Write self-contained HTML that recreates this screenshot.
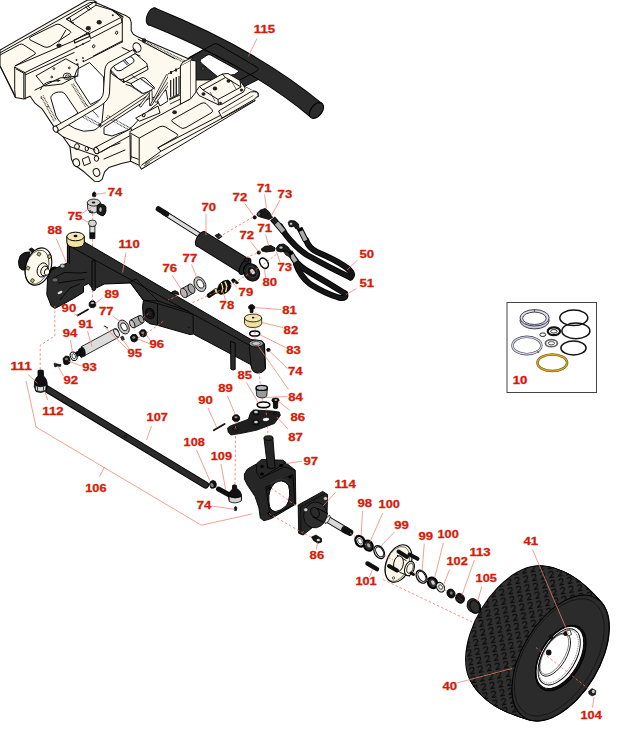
<!DOCTYPE html>
<html><head><meta charset="utf-8"><style>
html,body{margin:0;padding:0;background:#fff;overflow:hidden;}
svg{display:block;}
.l{font-family:"Liberation Sans",sans-serif;font-weight:bold;font-size:11px;fill:#d41c08;stroke:#d41c08;stroke-width:0.3;}
.ld{stroke:#ec7a68;stroke-width:0.8;fill:none;}
.ds{stroke:#ec6a58;stroke-width:0.8;fill:none;stroke-dasharray:3 2.5;}
.k{stroke:#000;stroke-width:1;stroke-linejoin:round;}
.cr{fill:#fef9ee;stroke:#111;stroke-width:0.9;stroke-linejoin:round;}
.dk{fill:#262626;stroke:#000;stroke-width:1;stroke-linejoin:round;}
.ln{fill:none;stroke:#111;stroke-width:0.8;stroke-linejoin:round;stroke-linecap:round;}
</style></head><body>
<svg width="643" height="756" viewBox="0 0 643 756">
<rect width="643" height="756" fill="#fff"/>

<!-- ===== FRAME ===== -->
<!--S:frame-->
<g id="frame">
<path d="M0,50 L87.5,0 L93.4,0 L96.2,2.8 L113,10 L122,14 L125.6,15.4 L129.8,18.2 L131.2,22.4 L131.2,30.8 L133.3,34.3 L138.2,37.1 L190.2,59.4 L232,80 L252,90.5 Q259.5,91.5 258.5,96 L254,100 L175,147 L141.5,169 L138.9,166.2 L131.2,161.3 L121.4,163.4 L108.8,167.6 L104.6,171.8 L102.1,179.4 L99,181.6 L94.7,181.3 L84,171.8 L74.2,164.8 L71.4,159.2 L70,146.6 L63,136.8 L56,131.2 L53.2,125.6 L42,108.8 L35,103.2 L30.1,96.2 L23.8,99 L15.4,97.6 L0,66 Z" fill="#fef9ee" stroke="#111" stroke-width="1.05" stroke-linejoin="round"/>
<!-- see-through white windows -->
<g fill="#fff" stroke="#111" stroke-width="1" stroke-linejoin="round">
<path d="M52,95.2 Q55,91.5 61.8,92 Q64,92.5 65.5,94.5 L78,113 L62,124 Q58,120 56,116 L50.9,98.5 Q50.5,96.5 52,95.2 Z"/>
<path d="M77.5,69 L89.5,62.5 L103.5,77 L104.6,95 Q104,97.5 101,99 L90.5,104.5 L75,80.5 Q74,76 76,72 Z"/>
<path d="M62,125 L104,101 L102,122 Q98,130 92,130.5 L83.5,131.2 Q74,129 68,124.5 Z"/>
<path d="M104,127.5 L148,99 L155,97 L158,103 L141,117 L133,126 L128,130 L112,136 L104,134 Z"/>
<path d="M156,97 L166,90 L168,101 L160,106 Z"/>
</g>
<!-- hatched interior members -->
<g fill="none" stroke="#333" stroke-width="1.1" stroke-dasharray="0.9 0.7">
<path d="M71.6,84.4 L85.7,107.2 M73.3,83.6 L87.2,106"/>
<path d="M80.3,115.9 L98.8,125.7 M81,113.8 L99.5,123.5"/>
<path d="M41,96.3 L54.2,121.4 M43,95.5 L56,120"/>
<path d="M106,117.2 L131.2,131.2 M107.5,115.5 L132,129"/>
<path d="M85,103.2 L99,117.2"/>
<path d="M142.6,40 L185,61 M143,42.2 L185,63"/>
<path d="M130.5,74.5 L150,88 M112,74 L125,82"/>
</g>
<g fill="none" stroke="#111" stroke-width="1" stroke-linejoin="round" stroke-linecap="round">
<!-- left rail top flange -->
<path d="M0,52.8 L90,2.5 L96.2,2.3"/>
<path d="M0,55 L19.6,44.5 Q21.5,43.8 23.1,44.5 L34.3,51.8 Q36.2,53.2 35,54.2 L15.4,65.8"/>
<path d="M30.1,39.9 Q28.5,38.5 30.5,37 L56,24.5 Q58,23.8 60,24.6 L70.2,31.2 Q71.5,32.5 70,33.5 L50,46.5 Q47,48 44.5,47 Z"/>
<path d="M65.8,30.2 L58.8,42"/>
<path d="M15.4,65.8 L74.2,40.6 L90,31.5 M24.5,72.8 L90,40.6 M25.2,74.9 L74.2,52.5"/>
<path d="M74.2,40 L89,33.5 L89.4,36.5 L74.6,43 Z" stroke-dasharray="0.8 0.5" stroke-width="1.1"/>
<!-- left box -->
<path d="M14.7,67.2 L25.2,72.8 L25.2,99 M16.2,69 L23.8,73.2 L23.8,98 M14.7,67.2 L14.7,89.6 L15.4,97.6 M0,65.8 L14.7,95"/>
<!-- mount block top -->
<path d="M70.9,21.8 L96,5.2 L112,10 L121,17.4 L89.4,33.7 Z M89.4,33.7 L90.5,38.6 L122,22.3 L121,17.4 M122.3,18.2 L122.3,42"/>
<path d="M66.5,19 L95.9,1.1 L96,5.2 M66.5,19 L70.9,21.8 M86,7 L89,10.5 M88,6 L91,9.2"/>
<path d="M67,19.5 L71,21.8 L70,18 Z" fill="#fff"/>
<path d="M112,9.8 L123,17" stroke-dasharray="1 0.6" stroke-width="1.4"/>
<!-- rear mount plate (left) -->
<path d="M36.4,75.6 L65.8,58.8 L78.4,65.8 L77.7,75.6 L62,84 L45,86 Z"/>
<path d="M35,90 L60,78 L78,76"/>
<path d="M40.6,89.6 Q43,83 50,81.5 L60,80.5"/>
<!-- right region lines -->
<path d="M85,60.9 L122.1,42 M93.4,56 L122,41 M138.2,39.2 L175,58.8 M122,47.5 L140,56"/>
<!-- cross member boxes -->
<path d="M110.6,68.3 L131.5,54.5 Q133.5,53.2 135.8,54 L146.5,63 Q148,65 146.5,66.5 L123.2,79.1 Q121,80 119,79 L111,70.5 Z" fill="#fef9ee"/>
<path d="M111,70.5 L111.5,73.5 L123.7,82.5 L148,69.5 L147.5,66 M123.2,79.1 L123.7,82.5"/>
<path d="M113.4,65.5 L127.5,57 Q130,56 132,57.3 L134,60 Q134.5,62 132.5,63 L121,70.5 Q118,71.5 116,70 Z" fill="#fff"/>
<path d="M121.8,59 L127.4,65 M123.2,58.2 L128.8,64.2" stroke-width="1"/>
<path d="M131.1,83.5 L141,78 Q143.5,77 145.5,78.5 L154.5,87.5 L150,91 L143,93.5 L135,88 Z" fill="#fff"/>
<path d="M131.1,86 L142.3,93.5 M140.5,78.6 L154.5,88.9" stroke="#333" stroke-width="1.1" stroke-dasharray="0.9 0.6"/>
<path d="M124,81 L131.1,83.5 M126,84.5 L131,86"/>
<!-- upper pipe (bent) -->
<path d="M55.3,126.3 L93,105 Q103.4,99 103.4,92 L104.8,70 Q105.5,63 111.8,61 L132.8,49.8 L135.6,53.3 L113.9,65.9 Q110.4,68 110.4,71 L109.5,93 Q109,100.5 100,106 L56.7,131.9 Z" fill="#fef9ee"/>
<ellipse cx="55.6" cy="129.1" rx="2.3" ry="3.2" transform="rotate(-25 55.6 129.1)" fill="#fef9ee"/>
<ellipse cx="137" cy="47.4" rx="3.8" ry="4.8" transform="rotate(-25 137 47.4)" fill="#fef9ee"/>
<path d="M134.5,49 L136.5,52.5" />
<!-- lower pipe -->
<path d="M95.5,147.3 L131,128.5 L133,134 L97.6,153.6 Z" fill="#fef9ee"/>
<ellipse cx="96.3" cy="150.6" rx="2.3" ry="3.3" transform="rotate(-25 96.3 150.6)" fill="#fef9ee"/>
<!-- thin rod + zigzag -->
<path d="M99,124.6 L150.8,90.2 L151.5,93 L100.5,127 Z" fill="#fef9ee" stroke-width="0.9"/>
<path d="M136,118 L158,106 L160,113 L140,121 Z" fill="#fef9ee"/>
<ellipse cx="143.8" cy="115.1" rx="1.3" ry="1.7" transform="rotate(20 143.8 115.1)"/>
<path d="M139.3,105.7 L148.5,93.5 L150.3,94.5 L141.2,106.8 Z" fill="#fef9ee" stroke-width="0.8"/>
<path d="M149.6,91 L152,90.5 L152.4,104.5 L150,105.5 Z" fill="#fef9ee" stroke-width="0.8"/>
<path d="M150,105.5 L166.5,74.5 L168.6,75.5 L152.4,104.5 Z" fill="#fef9ee" stroke-width="0.8"/>
<path d="M154.5,101 L168.2,82 L170,83.2 L156.5,102.2 Z" fill="#fef9ee" stroke-width="0.8"/>
<!-- holes rear plate -->
<ellipse cx="77" cy="146.6" rx="2.4" ry="3" fill="#fef9ee"/>
<ellipse cx="86.8" cy="148.7" rx="1.7" ry="2.2" fill="#fef9ee"/>
<ellipse cx="76.3" cy="162.7" rx="3.2" ry="3.9" transform="rotate(-20 76.3 162.7)" fill="#fef9ee"/>
<ellipse cx="96.5" cy="172.5" rx="3.2" ry="3.9" transform="rotate(-20 96.5 172.5)" fill="#fef9ee"/>
<ellipse cx="96.5" cy="158.5" rx="2.2" ry="2.8" fill="#fef9ee"/>
<path d="M82.6,159 L88.5,156.4 L90.5,163 L84.5,165.5 Z"/>
<path d="M63,136.8 L95,150 M70,146.6 L97,156 M101,152 Q110,146 120,143 M104,159 L125,150"/>
</g>
<g fill="#222">
<ellipse cx="59" cy="45.6" rx="2.6" ry="2.2"/>
<ellipse cx="88.3" cy="28.3" rx="2.6" ry="2.2"/>
<ellipse cx="99.2" cy="22.3" rx="2.6" ry="2.2"/>
<circle cx="83.5" cy="61.1" r="1.1"/><circle cx="77.5" cy="64.3" r="1.1"/><circle cx="112.8" cy="15.2" r="1"/><circle cx="73" cy="22.9" r="1"/>
<circle cx="76.5" cy="47" r="0.9"/><circle cx="83" cy="44" r="0.9"/><circle cx="76.5" cy="60" r="0.9"/><circle cx="83" cy="58" r="0.9"/>
<circle cx="41.3" cy="98" r="0.8"/><circle cx="48" cy="106.5" r="0.8"/>
<circle cx="144" cy="40.5" r="2.2"/>
<circle cx="100" cy="124.8" r="1.5"/>
</g>
<g fill="none" stroke="#111" stroke-width="0.9">
<ellipse cx="116.6" cy="32.7" rx="1.1" ry="1.6" transform="rotate(20 116.6 32.7)"/>
<ellipse cx="93.7" cy="46.3" rx="1.1" ry="1.6" transform="rotate(20 93.7 46.3)"/>
<ellipse cx="67.2" cy="76.3" rx="4" ry="3.2"/>
<ellipse cx="67.5" cy="76.5" rx="2" ry="1.6"/>
<circle cx="53.9" cy="68.6" r="0.9"/><circle cx="69.3" cy="67.9" r="0.9"/><circle cx="51.8" cy="77" r="0.9"/><circle cx="58.1" cy="80.5" r="0.9"/>
</g>
<!-- dark mechanism left of vertical plate -->
<path d="M168,74 L180.4,67.5 L180.4,104.2 L172,108 L168,102 Z" fill="#fef9ee" stroke="none"/>
<g fill="#2a2a2a" stroke="none"><rect x="170" y="80" width="1.3" height="17"/><rect x="173" y="78.5" width="1.2" height="17.5"/><rect x="175.6" y="77" width="1.4" height="18"/><rect x="178.4" y="76" width="1.2" height="18"/>
<rect x="170" y="71" width="2" height="3"/><rect x="175" y="68.5" width="2" height="3"/><rect x="168.5" y="96" width="11" height="1.4" transform="rotate(-25 174 96.7)"/></g>
<path d="M168,74 L180.4,67.5 M169,100 L180,95 M170,104 L180.4,99" stroke="#111" stroke-width="0.9" fill="none"/>
<!-- right rail -->
<g stroke="#111" stroke-width="1" stroke-linejoin="round" fill="none">
<path d="M129.4,131.8 L190,99 L196,96 L243,86 L253.5,91 L258.8,94.5 L257.8,97 L255.6,100.2 L141.5,169 L130.4,161 Z" fill="#fef9ee" stroke="none"/>
<path d="M129.4,131.8 L190,99"/>
<path d="M129.9,132.7 L139.2,138.1 L139.2,165.3 L130.4,161 Z"/>
<path d="M131,134.5 L131,159.5 M131,156.6 L138.6,159.3"/>
<path d="M139.2,138.1 L159.8,126.7 Q163,125.5 165.5,127 L177,134 Q178.8,135.6 176.5,137 L157.7,147.9 L161,151.2 L141.3,165.3"/>
<path d="M157.7,147.9 L257.8,95.9 M161,151.2 L255.6,100.2 M139.2,165.3 L141.5,169 L255.2,100.6"/>
<path d="M172.5,119.5 L201,103.5 Q204,102 206,103.5 L212,109.5 Q213.5,111.5 211,113 L186,127.5 Q182.5,129.5 180.5,127.5 L172.5,122 Q171,120.5 172.5,119.5 Z"/>
<path d="M145,163.5 L160,155 M144,166 L150,162" stroke-dasharray="0.8 0.6" stroke-width="1.1"/>
</g>
<ellipse cx="174.6" cy="112.2" rx="2.3" ry="2" fill="#222"/>
</g>

<!--E:frame-->
<!--S:bumper-->
<g id="bumper">
<path d="M189,57.5 L215,43 L262,70 L259.2,79.1 L243.3,87 L225,80 L189,80 Z" fill="#2b2b2b" stroke="#000" stroke-width="0.9"/>
<path d="M152,16.5 Q252.5,57 316.5,110.5" fill="none" stroke="#000" stroke-width="18.6"/>
<path d="M152,16.5 Q252.5,57 316.5,110.5" fill="none" stroke="#2b2b2b" stroke-width="16.8"/>
<ellipse cx="152" cy="16.5" rx="5" ry="9.2" transform="rotate(22 152 16.5)" fill="#2b2b2b" stroke="#000" stroke-width="1"/>
<path d="M152.5,16.7 Q160,19.7 165,22" stroke="#2b2b2b" stroke-width="16.7" fill="none"/>
<ellipse cx="316.5" cy="110.5" rx="5.6" ry="9" transform="rotate(38 316.5 110.5)" fill="#2b2b2b" stroke="#000" stroke-width="1.1"/>
<!-- rim -->
<path d="M188,58.5 L213.5,44.3 Q215.8,43 218,44.3 L257,67.2 Q260,69.3 257,71 L238.7,80.5" fill="none" stroke="#000" stroke-width="0.9"/>
<path d="M200.5,59.6 Q199.5,61.5 201.5,63.2 L218,77 L234.5,74.5 L238.2,72 Q239.5,71 238,70.2 L210.5,55 Q208.8,54.2 207,55.2 Z" fill="#fff" stroke="#000" stroke-width="0.9"/>
<circle cx="203" cy="68.5" r="1.6" fill="#555" stroke="#000" stroke-width="0.6"/>
</g>

<!--E:bumper-->
<!--S:framefront-->
<g id="framefront" stroke="#111" stroke-width="1" stroke-linejoin="round">
<!-- vertical plate -->
<path d="M180.4,65.7 L190.9,60.1 L190.9,98.6 L180.4,104.2 Z" fill="#fef9ee"/>
<path d="M180.4,65.7 L183,62 L193,57 L190.9,60.1" fill="#fef9ee"/>
<path d="M190.9,60.1 L196,61 L196,92 L190.9,98.6" fill="#fef9ee"/>
<!-- mount block -->
<path d="M196.2,91.1 L199.5,86.5 L222.3,74 L228,73.5 L240,80.5 L245.2,88.2 L243.5,92 L236,96 L221.5,104.5 L218.5,104.8 L199,95.5 Z" fill="#fef9ee"/>
<path d="M199.5,86.5 L203,90 L225.5,77.5 L222.3,74 M203,90 L218,99.5 L241,87 L240,80.5 M218,99.5 L218.5,104.8 M225.5,77.5 L241,87" fill="none"/>
<path d="M210,92 L215,101 M231,80 L236,89" fill="none" stroke-width="0.6"/>
<!-- right rail end -->
<path d="M218.6,111 L250.5,92 Q258.5,90.5 258.3,95.5 L254,99.5 L222,118 Z" fill="#fef9ee"/>
<path d="M222,113.5 L253.4,95.5" fill="none" stroke-width="0.6"/>
</g>
<g fill="#1c1c1c">
<ellipse cx="215" cy="88.5" rx="2.2" ry="1.9"/>
<ellipse cx="228.5" cy="81" rx="2" ry="1.8"/>
<ellipse cx="203.5" cy="94" rx="2" ry="1.8"/>
<ellipse cx="241.5" cy="90" rx="1.6" ry="1.5"/>
<ellipse cx="220.5" cy="103" rx="1.4" ry="1.3"/>
</g>

<!--E:framefront-->
<!--S:parts--><!--E:parts-->
<!--S:axle-->
<g id="axle">
<!-- left hub (behind bracket) -->
<path d="M20,256 Q17,262 19.5,268 Q22,271 27,270 L30,252 Q24,251 20,256 Z" fill="#1a1a1a" stroke="#000" stroke-width="0.8"/>
<path d="M29,249.5 L31.5,248 L34.5,250 L32.5,253 Z" fill="#1a1a1a" stroke="#000" stroke-width="0.8"/>
<ellipse cx="38.4" cy="266.6" rx="12.6" ry="19.2" transform="rotate(18 38.4 266.6)" fill="#fbf8ec" stroke="#000" stroke-width="1.1"/>
<ellipse cx="37" cy="267.2" rx="11.2" ry="17.6" transform="rotate(18 37 267.2)" fill="none" stroke="#000" stroke-width="0.6"/>
<ellipse cx="42.5" cy="270" rx="5.2" ry="7.2" transform="rotate(18 42.5 270)" fill="#fbf8ec" stroke="#000" stroke-width="0.9"/>
<ellipse cx="44.5" cy="271" rx="3.6" ry="5" transform="rotate(18 44.5 271)" fill="#fbf8ec" stroke="#000" stroke-width="0.9"/>
<ellipse cx="47" cy="272" rx="2.6" ry="3.4" transform="rotate(18 47 272)" fill="#fbf8ec" stroke="#000" stroke-width="0.9"/>
<g fill="#c8b860" stroke="#000" stroke-width="0.6">
<rect x="37.5" y="252.5" width="3" height="3.2" transform="rotate(30 39 254)"/>
<rect x="48" y="255" width="3" height="3.2" transform="rotate(30 49.5 256.5)"/>
<rect x="26.5" y="266.5" width="3" height="3.2" transform="rotate(30 28 268)"/>
<rect x="31" y="279" width="3" height="3.2" transform="rotate(30 32.5 280.5)"/>
</g>
<path d="M50,270 Q52,266 56,267 L60,272 L59,280 L54,282 Q50,279 50,274 Z" fill="#111" stroke="#000" stroke-width="0.8"/>
<!-- beam -->
<path d="M67.4,241 L83.5,241.5 L251,339.5 L262,341 L264.5,344 L265.5,369 Q262,374 257,373 Q252,372 251.5,367 L250.8,364.6 L193.3,334 L190.2,334.6 L157.5,325.3 L149.8,323.8 L143.5,319.1 L142.5,306.7 L143.5,300.4 L130.6,283 L104.3,284 L95.3,288.5 L93,289 L88.5,283.5 L83.5,286 L83.5,292.2 L73.6,298.4 L62.4,304.6 L54.9,308.4 L51.2,305.9 L46.8,294.7 L47.5,278.5 L51.2,270.4 L63,264.8 L67.4,263 Z" fill="#2b2b2b" stroke="#000" stroke-width="1" stroke-linejoin="round"/>
<g fill="none" stroke="#000" stroke-width="0.8" stroke-linejoin="round">
<path d="M67.4,241 L69.5,246 L250,345.5"/>
<path d="M69.5,246 L69.5,264"/>

<path d="M129.5,281.8 L136,279 L158,301 L143.5,300.4 Z"/>
<path d="M143.5,300.4 L157.5,303.5 L157.5,325.3 M157.5,303.5 L188.6,312.9 L193,314.5 L193.3,333.1"/>
<path d="M188,327 L189.5,327.5 M158,301 L188,311"/>
<path d="M52,279 L64,272.5 L80,273 L87.3,272.3 M58,283 L85,279 M60,300 L70,288 L80,284"/>

<path d="M249.2,344.5 L251,366 M264,344 L265.5,369"/>
</g>
<path d="M230.5,341.3 L235.2,343 L235.2,369.3 Q233,371 230.8,369 Z" fill="#2b2b2b" stroke="#000" stroke-width="0.9"/>
<path d="M92,261 L95,260.5 L95.3,290 Q93.5,291.5 92,290 Z" fill="#2b2b2b" stroke="#000" stroke-width="0.9"/>
<ellipse cx="150" cy="313.5" rx="4.2" ry="5.4" transform="rotate(-20 150 313.5)" fill="#1e1e1e" stroke="#000" stroke-width="1"/>
<ellipse cx="150.3" cy="313.3" rx="2.6" ry="3.6" transform="rotate(-20 150.3 313.3)" fill="none" stroke="#000" stroke-width="0.7"/>
<ellipse cx="256.2" cy="343.5" rx="7.2" ry="3.4" fill="#999" stroke="#000" stroke-width="0.9"/>
<ellipse cx="256.2" cy="343.5" rx="4.2" ry="2" fill="#c8c8c8" stroke="#000" stroke-width="0.5"/>
<path d="M171,293.5 Q172,290.5 175.5,290.8 Q178.5,291.5 179,294.5 Z" fill="#222" stroke="#000" stroke-width="0.8"/>
<!-- bushing 88 (yellow) -->
<path d="M66.8,236.5 L66.8,242.5 Q68,247.5 75.5,247.5 Q83.5,247.5 84.3,242.5 L84.3,236.5 Z" fill="#f1e4a2" stroke="#000" stroke-width="1"/>
<ellipse cx="75.5" cy="236.5" rx="8.7" ry="4.3" fill="#f3e9b8" stroke="#000" stroke-width="1"/>
<ellipse cx="75.5" cy="236" rx="2" ry="1.3" fill="#111"/>
<!-- left bracket details -->
<ellipse cx="55" cy="280" rx="3" ry="2.2" fill="#666" stroke="#000" stroke-width="0.6"/>
<ellipse cx="62.5" cy="266" rx="2.5" ry="2" fill="#bbb" stroke="#000" stroke-width="0.6"/>
<ellipse cx="60" cy="292.5" rx="2.6" ry="1.2" transform="rotate(-25 60 292.5)" fill="#ddd"/>
</g>

<!--E:axle-->
<!--S:cyl-->
<g id="cyl">
<!-- rod -->
<path d="M163,212 L201,236" stroke="#000" stroke-width="5.2" stroke-linecap="butt"/>
<path d="M163,212 L201,236" stroke="#dcdcdc" stroke-width="3.4"/>
<path d="M166,213.9 L173,218.3" stroke="#fff" stroke-width="0.8"/>
<path d="M158.5,209 L166.5,214" stroke="#111" stroke-width="5.6" stroke-linecap="round"/>
<!-- body -->
<path d="M201,239 L244,265.6" stroke="#000" stroke-width="17.2" stroke-linecap="butt"/>
<path d="M201,239 L244,265.6" stroke="#2b2b2b" stroke-width="15.4" stroke-linecap="butt"/>
<ellipse cx="201" cy="239" rx="4.2" ry="8.3" transform="rotate(32 201 239)" fill="#2b2b2b" stroke="#000" stroke-width="1"/>
<path d="M201,239 L206,242.1" stroke="#2b2b2b" stroke-width="15.2"/>
<path d="M215,235.5 L219,233.5 L222,236.5 L218.5,239 Z" fill="#1e1e1e" stroke="#000" stroke-width="0.8"/>
<!-- gland -->
<ellipse cx="245" cy="266.2" rx="4" ry="9.3" transform="rotate(32 245 266.2)" fill="#222" stroke="#000" stroke-width="1"/>
<ellipse cx="246.5" cy="260" rx="2.3" ry="2" fill="#222" stroke="#000" stroke-width="0.8"/>
<!-- eye -->
<ellipse cx="251.5" cy="272.3" rx="7.6" ry="9.2" transform="rotate(-35 251.5 272.3)" fill="#1e1e1e" stroke="#000" stroke-width="1"/>
<ellipse cx="252" cy="272" rx="4.6" ry="6" transform="rotate(-35 252 272)" fill="#111" stroke="#444" stroke-width="0.8"/>
<ellipse cx="252.5" cy="271.6" rx="2.2" ry="3.3" transform="rotate(-35 252.5 271.6)" fill="#ddd" stroke="#000" stroke-width="0.5"/>
</g>

<!--E:cyl-->
<!--S:hoses-->
<g id="hoses" fill="none" stroke-linecap="round" stroke-linejoin="round">
<!-- hose 51 -->
<path d="M294,259 Q300,267 310,272.5 Q329,283.5 345,293.5" stroke="#000" stroke-width="6"/>
<path d="M296,264 Q300,276 310,284 Q324,293 338.5,297.5 Q347,299.5 345,293.5" stroke="#000" stroke-width="6"/>
<path d="M294,259 Q300,267 310,272.5 Q329,283.5 345,293.5" stroke="#161616" stroke-width="4.2"/>
<path d="M296,264 Q300,276 310,284 Q324,293 338.5,297.5 Q347,299.5 345,293.5" stroke="#161616" stroke-width="4.2"/>
<!-- hose 50 -->
<path d="M280,226 L285,233.7 Q295,247 307,255 Q330,268 350.5,277.5" stroke="#000" stroke-width="6"/>
<path d="M306,240 Q309,248.5 317,252 Q336,260 346.5,267.5 Q355,274 350.5,277.5" stroke="#000" stroke-width="6"/>
<path d="M280,226 L285,233.7 Q295,247 307,255 Q330,268 350.5,277.5" stroke="#161616" stroke-width="4.2"/>
<path d="M306,240 Q309,248.5 317,252 Q336,260 346.5,267.5 Q355,274 350.5,277.5" stroke="#161616" stroke-width="4.2"/>
<!-- ferrules --><g stroke-linecap="butt">
<path d="M272.5,218.5 L284,232" stroke="#000" stroke-width="6.4"/>
<path d="M276.5,223 L283.5,231.5" stroke="#aaa" stroke-width="4.4"/>
<path d="M273,219 L276,222.6" stroke="#222" stroke-width="4.6"/>
<path d="M299.5,228 L306,241" stroke="#000" stroke-width="6"/>
<path d="M301,231 L305.6,240.5" stroke="#aaa" stroke-width="4"/>
<path d="M289.5,252 L296,262" stroke="#000" stroke-width="6.2"/>
<path d="M291.5,255 L295.7,261.6" stroke="#aaa" stroke-width="4.2"/>
</g></g>
<g id="fittings" stroke="#000" stroke-width="0.8" stroke-linejoin="round">
<!-- 71 upper -->
<path d="M257.1,214.3 L260,210.2 L265.2,208.4 L269.3,212 L272.5,217.5 L269,219.5 L260,217 Z" fill="#1a1a1a"/>
<ellipse cx="259" cy="214" rx="1.8" ry="2.4" transform="rotate(30 259 214)" fill="#555"/>
<!-- 73 upper -->
<path d="M288.5,224 Q287.5,221 291,220.5 L295,221 L298.5,224 L299,228 L296,229 L294,226 Q292,227.5 289.5,226.5 Z" fill="#1a1a1a"/>
<ellipse cx="291" cy="223.8" rx="1.6" ry="1.5" fill="#ccc" stroke-width="0.5"/>
<!-- 71 lower -->
<path d="M261.2,249 L265,246.3 L271,245.5 L275.2,248 L274.5,251 L266,252 L262,251 Z" fill="#1a1a1a"/>
<!-- 73 lower -->
<path d="M276.3,248 L279,244.5 L284,244 L288,247 L291,251 L288,253.5 L284,251 L281,252 L277,251 Z" fill="#1a1a1a"/>
<ellipse cx="281" cy="247.5" rx="2" ry="1.6" fill="#bbb" stroke-width="0.5"/>
<path d="M283,251 L286,255 L291,257.5 L288.5,252 Z" fill="#333"/>
<!-- 72 nuts -->
<circle cx="254.7" cy="217.4" r="1.6" fill="#111"/>
<circle cx="258.8" cy="252.6" r="1.6" fill="#111"/>
<!-- 80 ring -->
<ellipse cx="264" cy="263.2" rx="3.8" ry="5.6" transform="rotate(-32 264 263.2)" fill="none" stroke-width="1.5"/>
<!-- 79 clip -->
<path d="M231.5,280 Q233,278 235,279.5 L238.5,283 L236.5,284 L234,281.5 L233,283 Z" fill="#111"/>
<!-- 78 ball stud -->
<path d="M209,295.5 L215,291.5" stroke="#0a0a0a" stroke-width="4.6" stroke-linecap="round"/>
<ellipse cx="216.3" cy="290.8" rx="1.7" ry="2.7" transform="rotate(-30 216.3 290.8)" fill="#eadb8c" stroke="#000" stroke-width="0.6"/>
<path d="M217,289.5 L219.5,284 Q223,280 228,280 Q231.5,281.5 231,286.5 Q230,291 225,293.5 L220.5,294.5 Q217.5,293.5 217,289.5 Z" fill="#0a0a0a" stroke="#000" stroke-width="0.6"/>
<path d="M221.2,283 Q223.8,287.5 221.6,292.5" fill="none" stroke="#eadb8c" stroke-width="1.3"/>
<path d="M224.8,281.5 Q228,286 225.5,292" fill="none" stroke="#eadb8c" stroke-width="1.5"/>
<!-- 77 washer -->
<ellipse cx="199.9" cy="284.2" rx="5.4" ry="7.8" transform="rotate(-28 199.9 284.2)" fill="#c4c4c4"/>
<ellipse cx="200.3" cy="283.9" rx="3" ry="4.6" transform="rotate(-28 200.3 283.9)" fill="#fff"/>
<!-- 76 bushing -->
<path d="M181.8,288.6 L189.5,284.3 L193.6,293 L186,297.4 Z" fill="#a8a8a8" stroke="none"/>
<path d="M181.8,288.6 L189.5,284.3 M186,297.4 L193.6,293" fill="none"/>
<ellipse cx="191.5" cy="288.7" rx="3" ry="5" transform="rotate(-25 191.5 288.7)" fill="#a8a8a8"/>
<ellipse cx="183.8" cy="293" rx="3" ry="5" transform="rotate(-25 183.8 293)" fill="#b4b4b4"/>
</g>

<!--E:hoses-->
<!--S:small-->
<g id="small" stroke="#000" stroke-width="0.8" stroke-linejoin="round">
<!-- 74 top nut -->
<path d="M92.5,194 Q93,191.8 94.5,192 Q96,192.5 96,194.5 L95.5,196.5 L92.5,196.2 Z" fill="#111"/>
<!-- 75 clamp -->
<path d="M87.3,202.6 L87.8,209.5 Q89,213 94,213 L98.5,211 L100.4,202.6 Z" fill="#d8d8d8"/>
<ellipse cx="93.8" cy="202.6" rx="6.5" ry="3.5" fill="#d0d0d0"/>
<ellipse cx="93.5" cy="202.5" rx="1.8" ry="1" fill="#111" stroke="none"/>
<path d="M97,206 Q98,203.5 101.5,204 Q105.5,204.5 106,207.5 Q106.5,211 105,214 Q103.5,216.8 101,215.5 L97,213 Z" fill="#1a1a1a"/>
<ellipse cx="100.5" cy="209.5" rx="1.5" ry="2.6" fill="#bbb" stroke-width="0.4"/>
<path d="M90,210 L90,213 M92,211 L92,213.5" stroke="#111" stroke-width="1.2"/>
<!-- 75 bolt -->
<path d="M89.8,226 L89.8,233 L94.9,233 L94.9,226 Z" fill="#ddd"/>
<path d="M89.8,233 L89.8,238.6 L94.9,238.6 L94.9,233 Z" fill="#111"/>
<ellipse cx="92.4" cy="223.3" rx="4" ry="3.3" fill="#d6d6d6"/>
<!-- 89 left nut -->
<path d="M89.2,303 L91,300.9 L94,300.9 L95.7,303 L95.7,306 L93.8,307.6 L90.8,307.6 L89.2,306 Z" fill="#111"/>
<ellipse cx="92.4" cy="303" rx="1.8" ry="1" fill="#bbb" stroke="none"/>
<!-- 90 left pin -->
<path d="M77.5,315.5 L88,309.5" stroke="#111" stroke-width="1.8" stroke-linecap="round"/>
<!-- 77 left washer + bushing -->
<path d="M130.5,320 L139.5,315.5 L143,323 L134,328 Z" fill="#aaa" stroke="none"/>
<path d="M130.5,320 L139.5,315.5 M134,328 L143,323"/>
<ellipse cx="141.2" cy="319.3" rx="2.3" ry="4.2" transform="rotate(-25 141.2 319.3)" fill="#a8a8a8"/>
<ellipse cx="132.2" cy="324" rx="2.3" ry="4.2" transform="rotate(-25 132.2 324)" fill="#c4c4c4"/>
<ellipse cx="123.7" cy="327" rx="5" ry="7.4" transform="rotate(-28 123.7 327)" fill="#c8c8c8"/>
<ellipse cx="124" cy="326.8" rx="2.7" ry="4.3" transform="rotate(-28 124 326.8)" fill="#fff"/>
<!-- 96 nuts -->
<path d="M130.3,337 L132.5,334.5 L136,334.5 L137.7,337.2 L137.2,340.5 L134.5,342 L131.5,341 Z" fill="#111"/>
<ellipse cx="133.8" cy="337.5" rx="1.6" ry="1.2" fill="#888" stroke="none"/>
<path d="M139.2,332.3 L141.4,329.8 L144.8,329.8 L146.7,332.5 L146.2,335.6 L143.5,337 L140.5,336 Z" fill="#111"/>
<ellipse cx="142.7" cy="332.7" rx="1.6" ry="1.2" fill="#888" stroke="none"/>
<!-- 95 pin -->
<path d="M120.5,337 L123,336 L124.5,339.5 L122,340.5 Z" fill="#333" stroke-width="0.5"/>
<path d="M103.8,326.6 Q104.5,325.5 106,326.8 L108,328.2" fill="none" stroke-width="1"/>
<!-- 91 pin -->
<path d="M81.1,346.8 L114.7,328.7 Q119.5,327.5 118.4,337.4 L84.8,355.5 Z" fill="#dcdcdc"/>
<ellipse cx="116.6" cy="333" rx="2.2" ry="4.4" transform="rotate(-28 116.6 333)" fill="#e4e4e4"/>
<path d="M78.8,349.2 L82.5,347 Q86,350 85,355.8 L81,357.5 Q77.5,354 78.8,349.2 Z" fill="#111"/>
<path d="M75.5,352.5 L80,350 L81.5,354.5 L77,356.5 Z" fill="#111"/>
<!-- 94 washer -->
<ellipse cx="73.6" cy="356.3" rx="3.2" ry="4.6" transform="rotate(-20 73.6 356.3)" fill="#e6e6e6" stroke-width="0.9"/>
<ellipse cx="73.8" cy="356.2" rx="1.6" ry="2.6" transform="rotate(-20 73.8 356.2)" fill="#fff" stroke-width="0.6"/>
<!-- 93 nut -->
<path d="M63,358.5 L65.5,356.1 L69,356.5 L70,359.5 L69.9,363 L67,364.8 L64,364 Z" fill="#111"/>
<ellipse cx="66.5" cy="359" rx="1.6" ry="1.2" fill="#777" stroke="none"/>
<!-- 92 clip -->
<path d="M54,363.5 Q55,362.6 57,364 L61,364.6 L60.5,366.5 L57,366 Q56,367.6 54.5,366.5 Z" fill="#222" stroke-width="0.6"/>
</g>

<!--E:small-->
<!--S:right-->
<g id="right" stroke="#000" stroke-width="0.8" stroke-linejoin="round">
<!-- 81 bolt -->
<path d="M248.6,306.5 L250.5,304.8 L253,304.8 L254.7,306.5 L254.5,308.6 L251.6,309.5 L248.8,308.6 Z" fill="#111"/>
<path d="M250.2,308.5 L250.2,312.5 L253,312.5 L253,308.5 Z" fill="#111"/>
<!-- 82 yellow -->
<path d="M244.5,318 L244.5,323.5 Q246,327.5 253.1,327.5 Q260.5,327.5 261.7,323.5 L261.7,318 Z" fill="#efe09c"/>
<ellipse cx="253.1" cy="318" rx="8.6" ry="3.9" fill="#f4e8b2"/>
<ellipse cx="253.1" cy="317.6" rx="1.3" ry="0.9" fill="#111" stroke="none"/>
<!-- 83 washer -->
<ellipse cx="254.7" cy="333.5" rx="5" ry="2.6" fill="none" stroke-width="1.5"/>
<!-- 74 -->
<path d="M266.5,349.5 L268,348.3 L270,349 L270,351 L267.5,351.4 Z" fill="#111"/>
<!-- 84 bushing -->
<path d="M256,388 L256.8,396 Q259,398 262,398 Q265.5,398 266.8,396 L267.4,388 Z" fill="#9a9a9a"/>
<ellipse cx="261.7" cy="387.9" rx="5.7" ry="2.5" fill="#bbb" stroke-width="1.4"/>
<!-- 85 washer -->
<ellipse cx="263.5" cy="404.8" rx="6.3" ry="2.8" fill="none" stroke-width="1.6"/>
<!-- 86 bolt -->
<ellipse cx="275.5" cy="400.2" rx="3.6" ry="2.3" fill="#1a1a1a"/>
<path d="M273.3,401 L273.5,408 Q275.5,409.3 277.6,408 L277.8,401 Z" fill="#111"/>
<ellipse cx="275.8" cy="400" rx="1.3" ry="0.9" fill="#aaa" stroke="none"/>
<!-- 87 arm -->
<path d="M227.6,427.9 L230.9,425.7 L248.3,419.2 L250.5,412.7 L253.7,409.9 L272.3,411 L279.3,412.1 L280.4,415.4 L274.4,423.5 L257,430.1 L241.8,433.3 L230.9,435 L228.2,432.3 Z" fill="#1e1e1e"/>
<ellipse cx="256" cy="412.5" rx="3.3" ry="2.4" fill="#222"/>
<ellipse cx="256" cy="412" rx="1.8" ry="1.2" fill="#ccc" stroke="none"/>
<ellipse cx="256" cy="422.5" rx="3.3" ry="2.4" fill="#222"/>
<ellipse cx="256" cy="422" rx="1.8" ry="1.2" fill="#ccc" stroke="none"/>
<path d="M262.5,419.5 Q262.5,417.6 265,417.6 L268,417.6 Q269.8,417.8 269.5,419.6 Q269,421.4 266.5,421.4 L264,421.4 Q262.5,421.2 262.5,419.5 Z" fill="#fff"/>
<ellipse cx="275" cy="413.3" rx="1.6" ry="1" fill="#333"/>
<ellipse cx="235.5" cy="428.6" rx="2.6" ry="1.6" fill="#333"/>
<!-- 89 nut -->
<path d="M232.5,417 L234.6,414.8 L237.6,414.8 L239.6,417 L239.6,419.8 L237.6,421.6 L234.6,421.6 L232.5,419.8 Z" fill="#111"/>
<ellipse cx="236" cy="417.2" rx="1.6" ry="1" fill="#999" stroke="none"/>
<!-- 90 pin -->
<path d="M213.8,430.3 L224.6,424" stroke="#111" stroke-width="1.8" stroke-linecap="round"/>
</g>
<g id="tierod" stroke="#000" stroke-linejoin="round">
<path d="M46.6,388.8 L205.5,485" stroke="#000" stroke-width="7.2" stroke-linecap="round"/>
<path d="M46.6,388.8 L205.5,485" stroke="#2b2b2b" stroke-width="5.4" stroke-linecap="round"/>
<ellipse cx="125.4" cy="436.3" rx="1.3" ry="1.6" fill="none" stroke-width="0.6"/>
<!-- 111 -->
<path d="M38,370.5 Q40.5,369.3 43.3,370.5 L43.6,376 Q46,378 47,382 L47.3,386.5 L46,391 Q41,393.5 36,391.5 L34.3,386.5 L34.6,381 Q36,377.5 38,376 Z" fill="#111" stroke-width="0.8"/>
<path d="M35.2,385.5 Q40,388 46.2,385.5 L45.6,390.5 Q40.5,392.8 35.6,390.5 Z" fill="#d8d8d8" stroke-width="0.7"/>
<path d="M37.5,386.8 L37.5,390.5 M43.5,386.5 L43.5,390.5" stroke-width="0.7"/>
<!-- 108 nut -->
<path d="M209.5,484 Q209.8,481 212.5,480.4 Q216,480.4 216.3,484 L216,486.8 Q213.5,489 210.8,488 Z" fill="#111" stroke-width="0.8"/>
<ellipse cx="212" cy="485.2" rx="1.4" ry="2.2" transform="rotate(-30 212 485.2)" fill="#888" stroke="none"/>
<!-- 109 -->
<path d="M218.5,489 L228.5,494.5" stroke="#111" stroke-width="5" stroke-linecap="round"/>
<path d="M232.5,485.5 Q234.5,483.8 236.5,485.5 L236.8,488.5 Q240.5,490.5 241.5,494.5 L241.5,499.5 Q236,503 229,500.5 L228.5,495.5 Q229.5,491 232.5,489 Z" fill="#111" stroke-width="0.8"/>
<path d="M229,496.5 Q235,499.5 241.5,496.5 L241.3,501 Q235,504.5 229.3,501.5 Z" fill="#d4d4d4" stroke-width="0.8"/>
<!-- 74 -->
<path d="M234.3,508 Q234.5,506.5 236,506.5 Q237,507 236.8,508.5 L236.5,510.6 L234.5,510.5 Z" fill="#111" stroke-width="0.6"/>
</g>

<!--E:right-->
<!--S:spindle-->
<g id="spindle" stroke="#000" stroke-width="0.9" stroke-linejoin="round">
<!-- body 97 -->
<path d="M244.4,474 L247.5,469 L256.3,464 L261.4,459.5 L282.7,460.2 L295.3,470.2 L295.8,504.1 L271.4,518.5 L263.9,520.8 L260.3,518 L258.9,508 L255.1,496.6 L247.5,485.3 L244.4,479 Z" fill="#262626"/>
<path d="M256.3,464 L256.8,473 L260.5,478.5 L286,462.5 L282.7,460.2 M260.5,478.5 L284,467 L295.3,470.2" fill="none" stroke-width="0.7"/>
<path d="M265.8,487.2 L292.8,474.6 L295.3,504.1 L270.2,516.7 Z" fill="#222" stroke-width="0.8"/>
<path d="M272,486.6 Q275,481 281.5,480.9 Q286,481.5 288.4,485.3 Q290,490 289.6,495.3 Q289,502 286.5,505.4 Q281,511 275.2,511.7 Q271,511 269.5,506.7 Q268.5,501 268.9,495.4 Q269.5,490 272,486.6 Z" fill="#fff" stroke-width="1"/>
<path d="M270.5,485.5 Q275,479 282,479 Q287.5,480 290,484.5" fill="none" stroke="#444" stroke-width="0.6"/>
<path d="M269.5,484 L293,476" fill="none" stroke-width="0.5" stroke="#444"/>
<ellipse cx="262" cy="466.5" rx="1.6" ry="1.1" fill="#000"/>
<ellipse cx="281" cy="465.5" rx="1.6" ry="1.1" fill="#000"/>
<ellipse cx="262" cy="474" rx="1.6" ry="1.1" fill="#000"/>
<ellipse cx="290" cy="477" rx="1.6" ry="1.1" fill="#000"/>
<ellipse cx="269.5" cy="488.5" rx="1.4" ry="1.1" fill="#000"/>
<ellipse cx="269" cy="513.5" rx="1.4" ry="1.1" fill="#000"/>
<!-- shaft -->
<path d="M264,438.2 L267.6,467.7 Q271.5,469.5 275.2,467.7 L272.9,438.2 Z" fill="#262626"/>
<ellipse cx="268.5" cy="438" rx="4.5" ry="2.3" fill="#2c2c2c"/>
<!-- plate 114 -->
<path d="M298.2,505 L322.7,491.4 L327.6,494.7 L327,515.9 L303.1,535 L298.7,533.3 Z" fill="#262626"/>
<path d="M300.5,507 L325.2,493.5 L327.6,494.7 M300.5,507 L301,534.5" fill="none" stroke-width="0.6"/>
<ellipse cx="315.2" cy="515" rx="11.5" ry="13" transform="rotate(15 315.2 515)" fill="#2e2e2e" stroke-width="0.7"/>
<ellipse cx="305.8" cy="509.8" rx="2.2" ry="2" fill="#ccc" stroke-width="0.6"/>
<ellipse cx="325.5" cy="498.5" rx="2.2" ry="2" fill="#ccc" stroke-width="0.6"/>
<ellipse cx="303.5" cy="531.5" rx="1.3" ry="1.1" fill="#555" stroke-width="0.5"/>
<!-- stub axle -->
<path d="M315,512.5 L325.5,518" stroke="#000" stroke-width="11" stroke-linecap="butt"/>
<path d="M315,512.5 L325.5,518" stroke="#2a2a2a" stroke-width="9.2"/>
<ellipse cx="315" cy="512.5" rx="4" ry="5.5" transform="rotate(-30 315 512.5)" fill="#2a2a2a" stroke-width="0.8"/>
<path d="M327,519 L348,531.5" stroke="#000" stroke-width="7" stroke-linecap="butt"/>
<path d="M327,519 L348,531.5" stroke="#d8d8d8" stroke-width="5.2"/>
<ellipse cx="327.5" cy="519.5" rx="1.6" ry="4.6" transform="rotate(31 327.5 519.5)" fill="#eee" stroke-width="0.7"/>
<path d="M344.5,529.5 L350,532.5" stroke="#111" stroke-width="6.6" stroke-linecap="round"/>
<!-- 86 bolt -->
<path d="M311.5,537 L316,535 L321.5,538.5 L321.6,542 L318,543.2 L313.5,540.5 Z" fill="#111" stroke-width="0.7"/>
<ellipse cx="318.3" cy="540" rx="2" ry="1.6" fill="#ddd" stroke-width="0.5"/>
</g>

<!--E:spindle-->
<!--S:tire-->
<g id="tire">
<defs><pattern id="tread" width="8.6" height="9" patternUnits="userSpaceOnUse" patternTransform="rotate(-10)"><rect width="8.6" height="9" fill="#303030"/><path d="M2,2.6 Q3.6,0.9 5.6,1.6 Q7.2,2.8 5.6,4.6 L2.4,7.4 L6.8,7.4" fill="none" stroke="#0c0c0c" stroke-width="1.25" stroke-linejoin="round"/></pattern>
<clipPath id="tireclip"><ellipse cx="514.50" cy="629.00" rx="38.30" ry="69.50" transform="rotate(31.0 514.50 629.00)"/><ellipse cx="516.27" cy="630.12" rx="39.00" ry="70.78" transform="rotate(31.0 516.27 630.12)"/><ellipse cx="518.04" cy="631.23" rx="39.50" ry="71.68" transform="rotate(31.0 518.04 631.23)"/><ellipse cx="519.81" cy="632.35" rx="39.92" ry="72.45" transform="rotate(31.0 519.81 632.35)"/><ellipse cx="521.58" cy="633.46" rx="40.28" ry="73.09" transform="rotate(31.0 521.58 633.46)"/><ellipse cx="523.35" cy="634.58" rx="40.58" ry="73.64" transform="rotate(31.0 523.35 634.58)"/><ellipse cx="525.12" cy="635.69" rx="40.83" ry="74.09" transform="rotate(31.0 525.12 635.69)"/><ellipse cx="526.88" cy="636.81" rx="41.03" ry="74.45" transform="rotate(31.0 526.88 636.81)"/><ellipse cx="528.65" cy="637.92" rx="41.18" ry="74.73" transform="rotate(31.0 528.65 637.92)"/><ellipse cx="530.42" cy="639.04" rx="41.29" ry="74.92" transform="rotate(31.0 530.42 639.04)"/><ellipse cx="532.19" cy="640.15" rx="41.35" ry="75.03" transform="rotate(31.0 532.19 640.15)"/><ellipse cx="533.96" cy="641.27" rx="41.36" ry="75.06" transform="rotate(31.0 533.96 641.27)"/><ellipse cx="535.73" cy="642.38" rx="41.34" ry="75.02" transform="rotate(31.0 535.73 642.38)"/><ellipse cx="537.50" cy="643.50" rx="41.28" ry="74.91" transform="rotate(31.0 537.50 643.50)"/><ellipse cx="539.27" cy="644.62" rx="41.18" ry="74.73" transform="rotate(31.0 539.27 644.62)"/><ellipse cx="541.04" cy="645.73" rx="41.06" ry="74.50" transform="rotate(31.0 541.04 645.73)"/><ellipse cx="542.81" cy="646.85" rx="40.90" ry="74.21" transform="rotate(31.0 542.81 646.85)"/><ellipse cx="544.58" cy="647.96" rx="40.71" ry="73.87" transform="rotate(31.0 544.58 647.96)"/><ellipse cx="546.35" cy="649.08" rx="40.50" ry="73.49" transform="rotate(31.0 546.35 649.08)"/><ellipse cx="548.12" cy="650.19" rx="40.27" ry="73.07" transform="rotate(31.0 548.12 650.19)"/><ellipse cx="549.88" cy="651.31" rx="40.02" ry="72.62" transform="rotate(31.0 549.88 651.31)"/><ellipse cx="551.65" cy="652.42" rx="39.75" ry="72.13" transform="rotate(31.0 551.65 652.42)"/><ellipse cx="553.42" cy="653.54" rx="39.47" ry="71.63" transform="rotate(31.0 553.42 653.54)"/><ellipse cx="555.19" cy="654.65" rx="39.19" ry="71.11" transform="rotate(31.0 555.19 654.65)"/><ellipse cx="556.96" cy="655.77" rx="38.89" ry="70.58" transform="rotate(31.0 556.96 655.77)"/><ellipse cx="558.73" cy="656.88" rx="38.60" ry="70.04" transform="rotate(31.0 558.73 656.88)"/><ellipse cx="560.50" cy="658.00" rx="38.30" ry="69.50" transform="rotate(31.0 560.50 658.00)"/></clipPath></defs>
<ellipse cx="514.50" cy="629.00" rx="39.20" ry="70.40" transform="rotate(31.0 514.50 629.00)" fill="#000"/>
<ellipse cx="516.27" cy="630.12" rx="39.90" ry="71.68" transform="rotate(31.0 516.27 630.12)" fill="#000"/>
<ellipse cx="518.04" cy="631.23" rx="40.40" ry="72.58" transform="rotate(31.0 518.04 631.23)" fill="#000"/>
<ellipse cx="519.81" cy="632.35" rx="40.82" ry="73.35" transform="rotate(31.0 519.81 632.35)" fill="#000"/>
<ellipse cx="521.58" cy="633.46" rx="41.18" ry="73.99" transform="rotate(31.0 521.58 633.46)" fill="#000"/>
<ellipse cx="523.35" cy="634.58" rx="41.48" ry="74.54" transform="rotate(31.0 523.35 634.58)" fill="#000"/>
<ellipse cx="525.12" cy="635.69" rx="41.73" ry="74.99" transform="rotate(31.0 525.12 635.69)" fill="#000"/>
<ellipse cx="526.88" cy="636.81" rx="41.93" ry="75.35" transform="rotate(31.0 526.88 636.81)" fill="#000"/>
<ellipse cx="528.65" cy="637.92" rx="42.08" ry="75.63" transform="rotate(31.0 528.65 637.92)" fill="#000"/>
<ellipse cx="530.42" cy="639.04" rx="42.19" ry="75.82" transform="rotate(31.0 530.42 639.04)" fill="#000"/>
<ellipse cx="532.19" cy="640.15" rx="42.25" ry="75.93" transform="rotate(31.0 532.19 640.15)" fill="#000"/>
<ellipse cx="533.96" cy="641.27" rx="42.26" ry="75.96" transform="rotate(31.0 533.96 641.27)" fill="#000"/>
<ellipse cx="535.73" cy="642.38" rx="42.24" ry="75.92" transform="rotate(31.0 535.73 642.38)" fill="#000"/>
<ellipse cx="537.50" cy="643.50" rx="42.18" ry="75.81" transform="rotate(31.0 537.50 643.50)" fill="#000"/>
<ellipse cx="539.27" cy="644.62" rx="42.08" ry="75.63" transform="rotate(31.0 539.27 644.62)" fill="#000"/>
<ellipse cx="541.04" cy="645.73" rx="41.96" ry="75.40" transform="rotate(31.0 541.04 645.73)" fill="#000"/>
<ellipse cx="542.81" cy="646.85" rx="41.80" ry="75.11" transform="rotate(31.0 542.81 646.85)" fill="#000"/>
<ellipse cx="544.58" cy="647.96" rx="41.61" ry="74.77" transform="rotate(31.0 544.58 647.96)" fill="#000"/>
<ellipse cx="546.35" cy="649.08" rx="41.40" ry="74.39" transform="rotate(31.0 546.35 649.08)" fill="#000"/>
<ellipse cx="548.12" cy="650.19" rx="41.17" ry="73.97" transform="rotate(31.0 548.12 650.19)" fill="#000"/>
<ellipse cx="549.88" cy="651.31" rx="40.92" ry="73.52" transform="rotate(31.0 549.88 651.31)" fill="#000"/>
<ellipse cx="551.65" cy="652.42" rx="40.65" ry="73.03" transform="rotate(31.0 551.65 652.42)" fill="#000"/>
<ellipse cx="553.42" cy="653.54" rx="40.37" ry="72.53" transform="rotate(31.0 553.42 653.54)" fill="#000"/>
<ellipse cx="555.19" cy="654.65" rx="40.09" ry="72.01" transform="rotate(31.0 555.19 654.65)" fill="#000"/>
<ellipse cx="556.96" cy="655.77" rx="39.79" ry="71.48" transform="rotate(31.0 556.96 655.77)" fill="#000"/>
<ellipse cx="558.73" cy="656.88" rx="39.50" ry="70.94" transform="rotate(31.0 558.73 656.88)" fill="#000"/>
<ellipse cx="560.50" cy="658.00" rx="39.20" ry="70.40" transform="rotate(31.0 560.50 658.00)" fill="#000"/>
<rect x="440" y="540" width="190" height="200" fill="url(#tread)" clip-path="url(#tireclip)"/>
<ellipse cx="560.50" cy="658.00" rx="38.30" ry="69.50" transform="rotate(31.0 560.50 658.00)" fill="#2b2b2b" stroke="#000" stroke-width="1"/>
<ellipse cx="559.30" cy="657.40" rx="35.10" ry="65.00" transform="rotate(31.0 559.30 657.40)" fill="none" stroke="#141414" stroke-width="0.8"/>
<ellipse cx="560.7" cy="658.0" rx="20.6" ry="36" transform="rotate(30.3 560.7 658.0)" fill="#111" stroke="#000" stroke-width="1"/>
<ellipse cx="559.9" cy="657.4" rx="19" ry="34.2" transform="rotate(30.3 559.9 657.4)" fill="#fff" stroke="#000" stroke-width="0.9"/>
<ellipse cx="559.2" cy="656.9" rx="16.5" ry="31" transform="rotate(30.3 559.2 656.9)" fill="none" stroke="#000" stroke-width="0.9"/>
<ellipse cx="558.6" cy="656.5" rx="15.2" ry="29.4" transform="rotate(30.3 558.6 656.5)" fill="none" stroke="#555" stroke-width="0.7" stroke-dasharray="1 0.8"/>
<ellipse cx="554.9" cy="654.7" rx="11.5" ry="24" transform="rotate(30.3 554.9 654.7)" fill="none" stroke="#000" stroke-width="0.8"/>
<ellipse cx="554.4" cy="654.3" rx="10.2" ry="22.5" transform="rotate(30.3 554.4 654.3)" fill="none" stroke="#444" stroke-width="0.6"/>
<ellipse cx="551.0" cy="637.0" rx="2.3" ry="2.6" fill="#111"/>
<ellipse cx="548.7" cy="652.5" rx="2.8" ry="3.0" fill="#111"/>
<ellipse cx="565.5" cy="633.5" rx="2.2" ry="2.6" fill="#111"/>
<path d="M566,631 L570,630 L571.5,634.5 L568,636 Z" fill="#fff" stroke="#000" stroke-width="0.7"/>
<path d="M588.5,691.5 L592,688.5 L595.8,690.5 L595.5,694.5 L592,696 L589,694 Z" fill="#222" stroke="#000" stroke-width="0.6"/>
<ellipse cx="593.3" cy="691.5" rx="1.5" ry="1.8" fill="#ccc"/>
</g>
<!--E:tire-->
<!--S:hub-->
<g id="hub" stroke="#000" stroke-linejoin="round">
<!-- 98 seal -->
<ellipse cx="360" cy="541.2" rx="4.2" ry="5.6" transform="rotate(-30 360 541.2)" fill="none" stroke-width="2.4"/>
<ellipse cx="360" cy="541.2" rx="2" ry="3.2" transform="rotate(-30 360 541.2)" fill="none" stroke="#333" stroke-width="0.8"/>
<!-- 100 bearing -->
<ellipse cx="368.3" cy="545.6" rx="4.3" ry="5.4" transform="rotate(-30 368.3 545.6)" fill="#333" stroke-width="2"/>
<ellipse cx="368.6" cy="545.4" rx="1.9" ry="2.8" transform="rotate(-30 368.6 545.4)" fill="#aaa" stroke-width="0.6"/>
<!-- 99 cup -->
<ellipse cx="379.2" cy="552.1" rx="4.8" ry="7" transform="rotate(-30 379.2 552.1)" fill="#ddd" stroke-width="1.2"/>
<ellipse cx="379.6" cy="551.8" rx="3.3" ry="5.4" transform="rotate(-30 379.6 551.8)" fill="#fff" stroke-width="0.9"/>
<!-- hub flange -->
<ellipse cx="398.5" cy="563.5" rx="12.2" ry="19.6" transform="rotate(22 398.5 563.5)" fill="#fbf7e8" stroke-width="1.1"/>
<ellipse cx="397.4" cy="564" rx="11" ry="18.3" transform="rotate(22 397.4 564)" fill="none" stroke-width="0.5"/>
<!-- boss -->
<path d="M398,556 L408,561 L411,576 L400,572 Z" fill="#fbf7e8" stroke="none"/>
<path d="M397,555.2 L406.5,560.8 M399.5,572.3 L410,576.2" fill="none" stroke-width="0.9"/>
<ellipse cx="398.5" cy="563.8" rx="4.8" ry="8" transform="rotate(10 398.5 563.8)" fill="#fbf7e8" stroke-width="0.9"/>
<ellipse cx="409.5" cy="568.5" rx="4.6" ry="7.4" transform="rotate(20 409.5 568.5)" fill="#fbf7e8" stroke-width="1"/>
<ellipse cx="410" cy="568.2" rx="3" ry="5.3" transform="rotate(20 410 568.2)" fill="#fbf7e8" stroke-width="0.7"/>
<!-- studs -->
<path d="M398.5,551.5 L407,557" stroke="#111" stroke-width="4" stroke-linecap="round"/>
<path d="M409.5,554.5 L417.5,558.8" stroke="#111" stroke-width="4" stroke-linecap="round"/>
<path d="M389,566 L397,570.5" stroke="#111" stroke-width="4" stroke-linecap="round"/>
<path d="M411,573 L413.5,574.5" stroke="#111" stroke-width="3" stroke-linecap="round"/>
<circle cx="393.5" cy="578" r="1.2" fill="none" stroke-width="0.6"/>
<!-- 101 stud -->
<path d="M367.5,563.5 L377,569.2" stroke="#111" stroke-width="4.4" stroke-linecap="round"/>
<!-- 99 cup 2 -->
<ellipse cx="421.5" cy="576.7" rx="4.8" ry="7" transform="rotate(-30 421.5 576.7)" fill="#ddd" stroke-width="1.2"/>
<ellipse cx="421.9" cy="576.4" rx="3.3" ry="5.4" transform="rotate(-30 421.9 576.4)" fill="#fff" stroke-width="0.9"/>
<!-- 100 bearing 2 -->
<ellipse cx="432.5" cy="582.8" rx="4.5" ry="5.6" transform="rotate(-30 432.5 582.8)" fill="#333" stroke-width="2"/>
<ellipse cx="433" cy="582.6" rx="2" ry="3" transform="rotate(-30 433 582.6)" fill="#ccc" stroke-width="0.6"/>
<!-- 102 washer -->
<ellipse cx="440.4" cy="587.2" rx="3.8" ry="5.2" transform="rotate(-30 440.4 587.2)" fill="#d8d8d8" stroke-width="1"/>
<ellipse cx="440.6" cy="587" rx="1.6" ry="2.4" transform="rotate(-30 440.6 587)" fill="#fff" stroke-width="0.6"/>
<!-- nut -->
<ellipse cx="451" cy="593.5" rx="3.9" ry="4.6" transform="rotate(-30 451 593.5)" fill="#111" stroke-width="0.8"/>
<ellipse cx="451.3" cy="593" rx="1.4" ry="1.7" fill="#777" stroke="none"/>
<!-- 113 -->
<ellipse cx="460" cy="598.3" rx="4.3" ry="5.1" transform="rotate(-30 460 598.3)" fill="#111" stroke-width="0.8"/>
<path d="M457.5,596 L462.5,600.5 M456.5,599 L461,602" stroke="#555" stroke-width="0.7"/>
<!-- 105 cap -->
<path d="M467.5,602.5 Q469,598.3 473.5,598.5 L478,601 Q482,605 480.5,610 Q478.5,613.8 474,613.3 L469,610.5 Q466,606.5 467.5,602.5 Z" fill="#2e2e2e" stroke-width="0.9"/>
<ellipse cx="474.8" cy="606.8" rx="4.6" ry="6.4" transform="rotate(-25 474.8 606.8)" fill="#2e2e2e" stroke-width="0.9"/>
</g>

<!--E:hub-->
<!--S:kit-->
<g id="kit">
<rect x="507" y="302.5" width="89.5" height="90" fill="#fff" stroke="#444" stroke-width="1"/>
<!-- lavender band ring top-left -->
<ellipse cx="534.6" cy="320.5" rx="14.6" ry="8.4" fill="#c9cbee" stroke="#333" stroke-width="0.9"/>
<ellipse cx="534.6" cy="317.8" rx="14.6" ry="8.2" fill="#dcdcf6" stroke="#333" stroke-width="0.9"/>
<ellipse cx="534.4" cy="318.3" rx="11.8" ry="6.2" fill="#fff" stroke="#333" stroke-width="0.9"/>
<path d="M534.5,309.6 L534.5,311.8" stroke="#222" stroke-width="0.8"/>
<!-- black o-rings right -->
<ellipse cx="573.8" cy="317.8" rx="14" ry="7.8" fill="none" stroke="#111" stroke-width="1.5"/>
<ellipse cx="575.9" cy="330.9" rx="14" ry="7.8" fill="none" stroke="#111" stroke-width="1.5"/>
<ellipse cx="573.5" cy="348" rx="12.6" ry="7" fill="none" stroke="#111" stroke-width="1.5"/>
<!-- small black seal -->
<ellipse cx="553.9" cy="331.3" rx="6.2" ry="3.9" fill="none" stroke="#111" stroke-width="2.2"/>
<ellipse cx="553.9" cy="331.3" rx="3.2" ry="1.8" fill="none" stroke="#111" stroke-width="0.9"/>
<!-- tiny ring -->
<ellipse cx="542.8" cy="334.7" rx="3" ry="1.8" fill="none" stroke="#222" stroke-width="1"/>
<!-- gray seal -->
<ellipse cx="551.4" cy="343.2" rx="6" ry="3.5" fill="none" stroke="#666" stroke-width="1.8"/>
<ellipse cx="551.4" cy="343.2" rx="3.2" ry="1.6" fill="none" stroke="#333" stroke-width="0.8"/>
<!-- lavender split ring left -->
<ellipse cx="526.9" cy="345.5" rx="14.4" ry="8.7" fill="none" stroke="#444" stroke-width="2.4"/>
<ellipse cx="526.9" cy="345.5" rx="14.4" ry="8.7" fill="none" stroke="#d0d2f2" stroke-width="1.3"/>
<path d="M537.5,351 L539,353" stroke="#333" stroke-width="0.8"/>
<!-- gold ring -->
<ellipse cx="552.3" cy="362.8" rx="14.8" ry="8.3" fill="none" stroke="#6a5410" stroke-width="2.5"/>
<ellipse cx="552.3" cy="362.8" rx="14.8" ry="8.3" fill="none" stroke="#d8aa2a" stroke-width="1.3"/>
</g>

<!--E:kit-->
<!--S:leaders-->
<g id="leaders" fill="none" stroke="#ee8070" stroke-width="0.75">
<path d="M257,38.5 L248.3,56.5"/>
<path d="M106,192.8 L95.5,194.5"/>
<path d="M82,213.4 L91.3,207.2 M82,218.8 L89.8,223.2"/>
<path d="M56.2,238.5 L66.3,262.3"/>
<path d="M126,252.5 L122.6,272.5"/>
<path d="M244.8,203.5 L253.6,215.8"/>
<path d="M264.5,194.5 L266.6,208.6"/>
<path d="M280,200 L271.3,215.8"/>
<path d="M206,213.5 L206,235"/>
<path d="M265.6,234.5 L268.7,246"/>
<path d="M250.5,241.5 L258,251"/>
<path d="M280,262 L276.4,251.6"/>
<path d="M191.5,264.5 L197.6,279.5"/>
<path d="M172,275 L182,290.5"/>
<path d="M265.5,277.5 L264.4,268.5"/>
<path d="M237,287.5 L232.5,282.3"/>
<path d="M225.5,300 L223,292"/>
<path d="M357.5,260.2 L347,270"/>
<path d="M356.5,288.5 L346,294.5"/>
<path d="M281,309.5 L255,307.6"/>
<path d="M283,327.5 L262,322.6"/>
<path d="M285.6,347.5 L260,334.8"/>
<path d="M287.5,368.5 L269,350.5"/>
<path d="M246.5,382.5 L259.3,404.5"/>
<path d="M287.5,396.5 L266,397.5 M288.5,389.5 L257.5,345"/>
<path d="M289.7,410.3 L277.8,400.8"/>
<path d="M288,429 L276.7,417"/>
<path d="M227.5,396 L235.3,414.6"/>
<path d="M208,408 L216.8,427.5"/>
<path d="M196.5,450 L209.7,480.4"/>
<path d="M221,464 L225.6,489.5"/>
<path d="M211.6,506 L234.9,509.3"/>
<path d="M302.1,461.2 L285.9,463.6"/>
<path d="M335.7,492.2 L323.3,505.8"/>
<path d="M316.5,549.5 L317.5,542.5"/>
<path d="M362.5,511 L361.1,536"/>
<path d="M382.8,513 L369.9,542"/>
<path d="M394.5,532 L381,545.9"/>
<path d="M424.3,543.5 L422.1,570.5"/>
<path d="M443.3,543 L434.6,578"/>
<path d="M449.5,569.5 L443.3,585.5"/>
<path d="M474.4,560 L461.9,595.5"/>
<path d="M481.8,586.5 L477.6,601.5"/>
<path d="M369.5,577 L372.5,569.5"/>
<path d="M532.5,549.5 L568.5,634"/>
<path d="M456.7,683 L512,668.5"/>
<path d="M592.5,707.5 L594,697"/>
<path d="M102.5,298 L94.8,303.7"/>
<path d="M74,313.5 L78,316"/>
<path d="M112.5,316 L120,321.4"/>
<path d="M87.5,331 L92,346.6"/>
<path d="M70.5,340 L72.4,352.2"/>
<path d="M150,344 L137.5,338.8 M151,341.5 L146,334.5"/>
<path d="M128,350 L105,327.5 M129.5,349 L122.5,339.5"/>
<path d="M81.5,366 L68.5,361"/>
<path d="M63.5,376 L58.5,367"/>
<path d="M28.1,374.4 L37.4,383.3"/>
<path d="M47.6,400 L44.8,391.1"/>
<path d="M151.5,426 L146.5,440"/>
<path d="M99.5,476.8 L104.5,467"/>
<path d="M26.1,381 L36.1,427.1 L201.3,525.2 L251.7,514"/>
</g>
<g id="dashes" fill="none" stroke="#ec6f5e" stroke-width="0.75" stroke-dasharray="2.6 2">
<path d="M219,237 L253,217"/>
<path d="M246,257.5 L258.5,252.5 L262,251"/>
<path d="M252,272 L264,264 L278,253"/>
<path d="M252,272 L237,281 L222,289.5 L190.5,303.5"/>
<path d="M182,294 L168,300"/>
<path d="M92.5,239 L92.5,246 M92.5,290 L92.5,300 M92.8,213.5 L92.6,219.5 M94,196.8 L94,199"/>
<path d="M54.8,306 L54.8,336 L40.2,345.3 L40.2,370"/>
<path d="M256,312.5 L256,318 M255,327 L255,340"/>
<path d="M259,372 L260.5,386 M262,398 L263,403 M266,408 L266.5,418 M267.5,426 L268,436"/>
<path d="M236,421.5 L235.5,428 M235.5,436 L235,484"/>
<path d="M271,488 L298,507"/>
<path d="M269,513.5 L302,532.5 L313,538"/>
<path d="M350,533 L356,537 M365,544 L366,545 M384,555 L393,560 M414,573 L417,574.5 M426,580 L428,581 M445,590 L447,591 M455,596 L456,597"/>
<path d="M383,579.5 L472,622"/>
<path d="M536,647.5 L590,690"/>
<path d="M130,325 L128,326 M143,318 L150,312"/>
<path d="M138,338 L150,331 L165,320"/>
</g>

<!--E:leaders-->

<!-- ===== LABELS ===== -->
<g id="labels">
<text class="l" x="253.8" y="32.5" textLength="21.2" lengthAdjust="spacingAndGlyphs">115</text>
<text class="l" x="107.8" y="195.6" textLength="14.6" lengthAdjust="spacingAndGlyphs">74</text>
<text class="l" x="67.7" y="219.6" textLength="14.6" lengthAdjust="spacingAndGlyphs">75</text>
<text class="l" x="47.5" y="233.6" textLength="14.6" lengthAdjust="spacingAndGlyphs">88</text>
<text class="l" x="118.5" y="248.1" textLength="21.2" lengthAdjust="spacingAndGlyphs">110</text>
<text class="l" x="232.6" y="200.6" textLength="14.6" lengthAdjust="spacingAndGlyphs">72</text>
<text class="l" x="257" y="191.6" textLength="14.6" lengthAdjust="spacingAndGlyphs">71</text>
<text class="l" x="277.6" y="197.8" textLength="14.6" lengthAdjust="spacingAndGlyphs">73</text>
<text class="l" x="201.5" y="210.6" textLength="14.6" lengthAdjust="spacingAndGlyphs">70</text>
<text class="l" x="257.5" y="231.6" textLength="14.6" lengthAdjust="spacingAndGlyphs">71</text>
<text class="l" x="239.5" y="238.6" textLength="14.6" lengthAdjust="spacingAndGlyphs">72</text>
<text class="l" x="182.6" y="261.6" textLength="14.6" lengthAdjust="spacingAndGlyphs">77</text>
<text class="l" x="162.4" y="272.1" textLength="14.6" lengthAdjust="spacingAndGlyphs">76</text>
<text class="l" x="277.4" y="271.1" textLength="14.6" lengthAdjust="spacingAndGlyphs">73</text>
<text class="l" x="262.4" y="285.6" textLength="14.6" lengthAdjust="spacingAndGlyphs">80</text>
<text class="l" x="238.6" y="296.0" textLength="14.6" lengthAdjust="spacingAndGlyphs">79</text>
<text class="l" x="359.5" y="257.9" textLength="14.6" lengthAdjust="spacingAndGlyphs">50</text>
<text class="l" x="359.5" y="286.6" textLength="14.6" lengthAdjust="spacingAndGlyphs">51</text>
<text class="l" x="219.6" y="308.6" textLength="14.6" lengthAdjust="spacingAndGlyphs">78</text>
<text class="l" x="282.3" y="313.6" textLength="14.6" lengthAdjust="spacingAndGlyphs">81</text>
<text class="l" x="283.6" y="333.6" textLength="14.6" lengthAdjust="spacingAndGlyphs">82</text>
<text class="l" x="286.3" y="354.0" textLength="14.6" lengthAdjust="spacingAndGlyphs">83</text>
<text class="l" x="288" y="375.2" textLength="14.6" lengthAdjust="spacingAndGlyphs">74</text>
<text class="l" x="237.5" y="378.8" textLength="14.6" lengthAdjust="spacingAndGlyphs">85</text>
<text class="l" x="218.3" y="391.8" textLength="14.6" lengthAdjust="spacingAndGlyphs">89</text>
<text class="l" x="198.3" y="404.0" textLength="14.6" lengthAdjust="spacingAndGlyphs">90</text>
<text class="l" x="288.2" y="400.7" textLength="14.6" lengthAdjust="spacingAndGlyphs">84</text>
<text class="l" x="290.4" y="420.8" textLength="14.6" lengthAdjust="spacingAndGlyphs">86</text>
<text class="l" x="288.2" y="441.0" textLength="14.6" lengthAdjust="spacingAndGlyphs">87</text>
<text class="l" x="183.6" y="445.6" textLength="21.2" lengthAdjust="spacingAndGlyphs">108</text>
<text class="l" x="210.8" y="459.6" textLength="21.2" lengthAdjust="spacingAndGlyphs">109</text>
<text class="l" x="196.7" y="508.6" textLength="14.6" lengthAdjust="spacingAndGlyphs">74</text>
<text class="l" x="303.4" y="465.1" textLength="14.6" lengthAdjust="spacingAndGlyphs">97</text>
<text class="l" x="334.5" y="488.0" textLength="21.2" lengthAdjust="spacingAndGlyphs">114</text>
<text class="l" x="357.4" y="507.0" textLength="14.6" lengthAdjust="spacingAndGlyphs">98</text>
<text class="l" x="378.6" y="508.2" textLength="21.2" lengthAdjust="spacingAndGlyphs">100</text>
<text class="l" x="394.2" y="528.8" textLength="14.6" lengthAdjust="spacingAndGlyphs">99</text>
<text class="l" x="418.4" y="539.8" textLength="14.6" lengthAdjust="spacingAndGlyphs">99</text>
<text class="l" x="437.5" y="538.0" textLength="21.2" lengthAdjust="spacingAndGlyphs">100</text>
<text class="l" x="469.4" y="556.1" textLength="21.2" lengthAdjust="spacingAndGlyphs">113</text>
<text class="l" x="446.5" y="564.9" textLength="21.2" lengthAdjust="spacingAndGlyphs">102</text>
<text class="l" x="475.6" y="582.1" textLength="21.2" lengthAdjust="spacingAndGlyphs">105</text>
<text class="l" x="355.4" y="585.1" textLength="21.2" lengthAdjust="spacingAndGlyphs">101</text>
<text class="l" x="309.6" y="558.9" textLength="14.6" lengthAdjust="spacingAndGlyphs">86</text>
<text class="l" x="523.5" y="545.2" textLength="14.6" lengthAdjust="spacingAndGlyphs">41</text>
<text class="l" x="580.5" y="719.3" textLength="21.2" lengthAdjust="spacingAndGlyphs">104</text>
<text class="l" x="442.4" y="690.1" textLength="14.6" lengthAdjust="spacingAndGlyphs">40</text>
<text class="l" x="104.5" y="297.6" textLength="14.6" lengthAdjust="spacingAndGlyphs">89</text>
<text class="l" x="61.6" y="311.6" textLength="14.6" lengthAdjust="spacingAndGlyphs">90</text>
<text class="l" x="98.9" y="315.4" textLength="14.6" lengthAdjust="spacingAndGlyphs">77</text>
<text class="l" x="78.4" y="327.6" textLength="14.6" lengthAdjust="spacingAndGlyphs">91</text>
<text class="l" x="62.7" y="336.5" textLength="14.6" lengthAdjust="spacingAndGlyphs">94</text>
<text class="l" x="149.5" y="348.1" textLength="14.6" lengthAdjust="spacingAndGlyphs">96</text>
<text class="l" x="127.5" y="356.5" textLength="14.6" lengthAdjust="spacingAndGlyphs">95</text>
<text class="l" x="82.3" y="370.5" textLength="14.6" lengthAdjust="spacingAndGlyphs">93</text>
<text class="l" x="63.4" y="383.9" textLength="14.6" lengthAdjust="spacingAndGlyphs">92</text>
<text class="l" x="10.5" y="370.0" textLength="21.2" lengthAdjust="spacingAndGlyphs">111</text>
<text class="l" x="42.3" y="414.7" textLength="21.2" lengthAdjust="spacingAndGlyphs">112</text>
<text class="l" x="85.3" y="491.9" textLength="21.2" lengthAdjust="spacingAndGlyphs">106</text>
<text class="l" x="146.6" y="420.6" textLength="21.2" lengthAdjust="spacingAndGlyphs">107</text>
<text class="l" x="512.7" y="383.6" textLength="14.6" lengthAdjust="spacingAndGlyphs" style="fill:#f00">10</text>
</g>
</svg>
</body></html>
